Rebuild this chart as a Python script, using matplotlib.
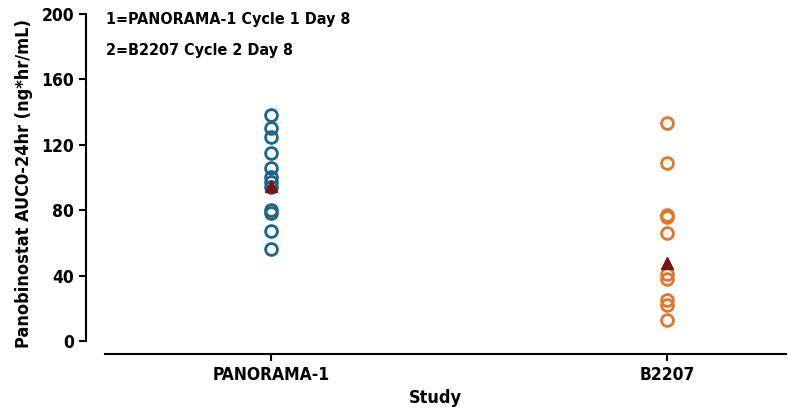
import numpy as np
import matplotlib
matplotlib.use('Agg')
import matplotlib.pyplot as plt
from matplotlib import font_manager

# pick a narrow face if the system has one
names = {f.name for f in font_manager.fontManager.ttflist}
narrow = [n for n in ['Liberation Sans Narrow', 'DejaVu Sans Condensed'] if n in names]
plt.rcParams['font.family'] = narrow + ['DejaVu Sans']
plt.rcParams['font.stretch'] = 'condensed'
plt.rcParams['font.weight'] = 'bold'

# data
studies = ['PANORAMA-1', 'B2207']
auc_panorama = [138, 130, 125, 115, 106, 100, 97, 94, 80, 78, 67, 56]
auc_b2207 = [133, 109, 77, 76, 66, 41, 38, 25, 22, 13]
geo_mean = [94.5, 47.5]

blue = '#1b6688'
orange = '#e2772a'
dark_red = '#7d1212'

fig = plt.figure(figsize=(7.88, 4.2), dpi=100)
ax = fig.add_axes([0.109, 0.157, 0.888, 0.81])

ax.plot(np.full(len(auc_panorama), 1), auc_panorama, 'o', ms=8.5, mfc='none',
        mec=blue, mew=2)
ax.plot(np.full(len(auc_b2207), 2), auc_b2207, 'o', ms=8.5, mfc='none',
        mec=orange, mew=2)
ax.plot([1, 2], geo_mean, '^', ms=8, color=dark_red, zorder=5)

ax.set_xlim(0.533, 2.30)
ax.set_ylim(-8, 200)
ax.set_xticks([1, 2])
ax.set_xticklabels(studies)
ax.set_yticks([0, 40, 80, 120, 160, 200])

for s in ['top', 'right']:
    ax.spines[s].set_visible(False)
ax.spines['left'].set_bounds(0, 200)
ax.spines['bottom'].set_bounds(0.58, 2.30)
ax.spines['left'].set_linewidth(1.5)
ax.spines['bottom'].set_linewidth(1.5)
ax.tick_params(width=1.5, length=5, labelsize=12.5)

ax.set_xlabel('Study', fontsize=13, fontweight='bold')
ax.set_ylabel('Panobinostat AUC0-24hr (ng*hr/mL)', fontsize=13, fontweight='bold',
              labelpad=6)

fig.text(0.135, 0.953, '1=PANORAMA-1 Cycle 1 Day 8', fontsize=11.5, va='center')
fig.text(0.135, 0.879, '2=B2207 Cycle 2 Day 8', fontsize=11.5, va='center')

fig.savefig('out.png', dpi=100)
